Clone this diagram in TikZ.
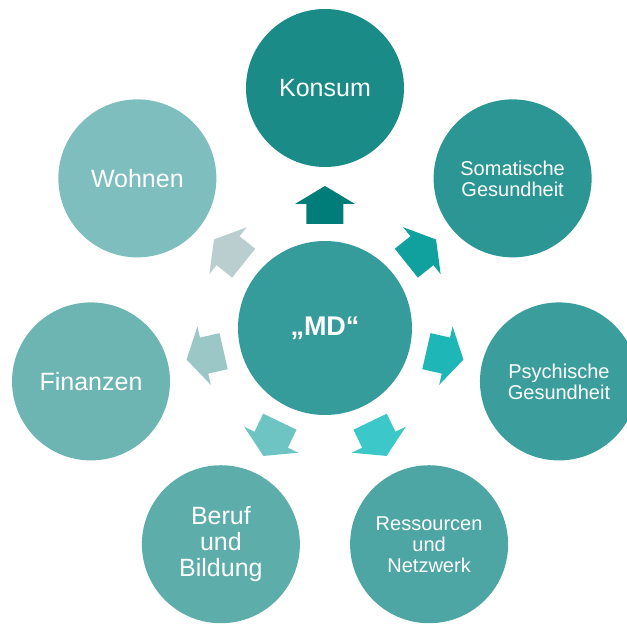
\documentclass[tikz,border=0pt]{standalone}
\usepackage{fontspec}
\setmainfont{Liberation Sans}
\definecolor{tiefgruen}{RGB}{26, 139, 135}
\definecolor{mittelgruen}{RGB}{54, 155, 155}
\definecolor{kreisB}{RGB}{43, 150, 147}
\definecolor{kreisC}{RGB}{59, 158, 157}
\definecolor{kreisD}{RGB}{77, 166, 164}
\definecolor{kreisE}{RGB}{93, 173, 170}
\definecolor{kreisF}{RGB}{109, 181, 179}
\definecolor{kreisG}{RGB}{127, 190, 190}
\definecolor{pfeilA}{RGB}{0, 125, 120}
\definecolor{pfeilB}{RGB}{16, 160, 157}
\definecolor{pfeilC}{RGB}{30, 182, 182}
\definecolor{pfeilD}{RGB}{60, 200, 200}
\definecolor{pfeilE}{RGB}{110, 195, 195}
\definecolor{pfeilF}{RGB}{155, 199, 199}
\definecolor{pfeilG}{RGB}{187, 206, 207}
\usepackage{tikz}
\usetikzlibrary{calc}

\tikzset{
    kreis/.style={circle, minimum size=158pt, inner sep=0pt, text=white, align=center},
    gross/.style={font=\fontsize{25}{26}\selectfont},
    klein/.style={font=\fontsize{20}{21}\selectfont}
}

\begin{document}
\begin{tikzpicture}[x=1pt, y=1pt]
    \clip (-325,-296) rectangle (302,328);

    % Centre circle
    \node[circle, minimum size=174pt, inner sep=0pt, fill=mittelgruen, text=white, font=\bfseries\fontsize{27}{28}\selectfont] (md) at (0,0) {„MD“};

    % Outer circles
    \node[kreis, gross, fill=tiefgruen] (konsum) at (90:240) {Konsum};
    \node[kreis, klein, fill=kreisB] (soma) at (38.57:240) {Somatische\\Gesundheit};
    \node[kreis, klein, fill=kreisC] (psych) at (-12.86:240) {Psychische\\Gesundheit};
    \node[kreis, klein, fill=kreisD] (ress) at (-64.29:240) {Ressourcen\\und\\Netzwerk};
    \node[kreis, gross, fill=kreisE] (beruf) at (-115.71:240) {Beruf\\und\\Bildung};
    \node[kreis, gross, fill=kreisF] (fin) at (-167.14:240) {Finanzen};
    \node[kreis, gross, fill=kreisG] (wohnen) at (141.43:240) {Wohnen};

    % Block arrows from the centre
    \foreach \ang/\col in {90/pfeilA, 38.57/pfeilB, -12.86/pfeilC, -64.29/pfeilD, -115.71/pfeilE, -167.14/pfeilF, 141.43/pfeilG} {
        \fill[\col, rotate=\ang] ($(md.center)+(104,-18.5)$) -- ++(20,0) -- ++(0,-11.5) -- ++(18,30) -- ++(-18,30) -- ++(0,-11.5) -- ++(-20,0) -- cycle;
    }
\end{tikzpicture}
\end{document}
